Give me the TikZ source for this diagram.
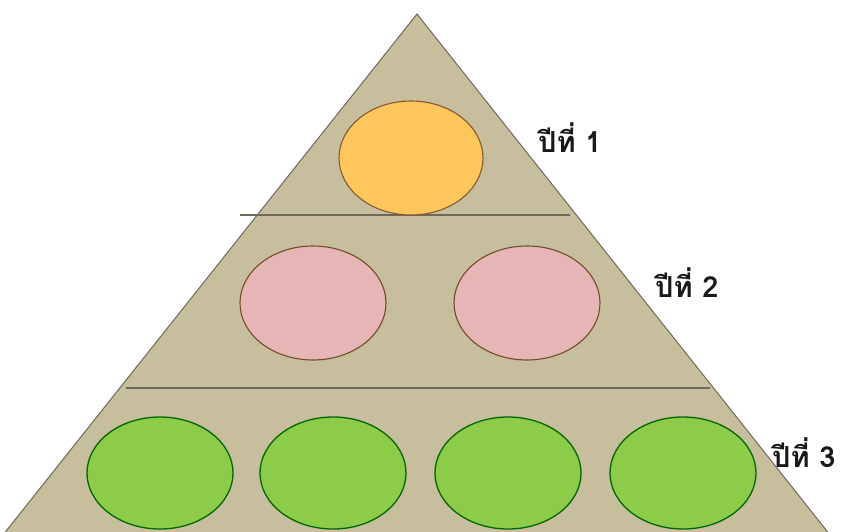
\documentclass[tikz,border=0pt]{standalone}
\usepackage{fontspec}
\newfontfamily\thaifont[Script=Thai]{Loma}
\definecolor{tan}{RGB}{198,190,156}
\definecolor{edge}{RGB}{110,105,90}
\definecolor{orangefill}{RGB}{255,198,92}
\definecolor{pinkfill}{RGB}{230,182,182}
\definecolor{greenfill}{RGB}{140,204,72}
\begin{document}
\begin{tikzpicture}[x=1pt,y=-1pt,
  yearlabel/.style={font=\thaifont\bfseries\fontsize{29}{32}\selectfont,text=black!90,anchor=west,inner sep=0pt}]
\useasboundingbox (0,0) rectangle (844,531);
\clip (0,0) rectangle (844,531);
\fill[white] (0,0) rectangle (844,531);
\coordinate (apex) at (417,14);
\coordinate (bl) at (-5,545);
\coordinate (br) at (838,545);
\draw[fill=tan,draw=edge,line width=1pt] (apex) -- (bl) -- (br) -- cycle;
\coordinate (l1a) at (240,215);
\coordinate (l1b) at (570,215);
\coordinate (l2a) at (126,388);
\coordinate (l2b) at (710,388);
\draw[edge,line width=1.3pt] (l1a) -- (l1b);
\draw[edge,line width=1.3pt] (l2a) -- (l2b);
\filldraw[fill=orangefill,draw=brown!70!black,line width=1.1pt] (411,158) ellipse [x radius=72,y radius=57];
\filldraw[fill=pinkfill,draw=brown!60!black,line width=1.1pt] (313,303) ellipse [x radius=73,y radius=57];
\filldraw[fill=pinkfill,draw=brown!60!black,line width=1.1pt] (527,303) ellipse [x radius=73,y radius=57];
\foreach \cx in {160,333,508,683}
  \filldraw[fill=greenfill,draw=green!40!black,line width=1.3pt] (\cx,473) ellipse [x radius=73,y radius=56];
\node[yearlabel] (y1) at (538,138) {ปีที่ 1};
\node[yearlabel] (y2) at (655,283) {ปีที่ 2};
\node[yearlabel] (y3) at (772,453) {ปีที่ 3};
\end{tikzpicture}
\end{document}
